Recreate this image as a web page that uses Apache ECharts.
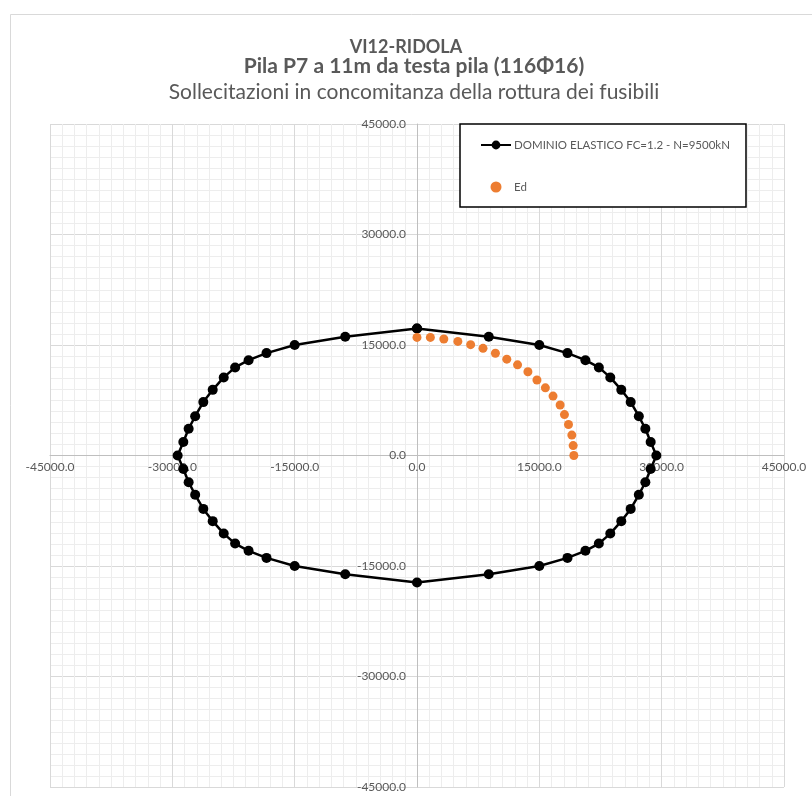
<!DOCTYPE html>
<html><head><meta charset="utf-8">
<script src="https://cdn.jsdelivr.net/npm/echarts@6/dist/echarts.min.js"></script>
<style>html,body{margin:0;padding:0;background:#fff}#c{width:812px;height:796px}</style>
</head><body><div id="c"></div>
<script>
// Elastic domain (closed loop, clockwise from top)
const domainX = [0, 8800, 15000, 18450, 20650, 22300, 23700, 25050, 26200, 27200, 28000, 28650, 29350,
  28650, 28000, 27200, 26200, 25050, 23700, 22300, 20650, 18450, 15000, 8800, 0,
  -8800, -15000, -18450, -20650, -22300, -23700, -25050, -26200, -27200, -28000, -28650, -29350,
  -28650, -28000, -27200, -26200, -25050, -23700, -22300, -20650, -18450, -15000, -8800, 0];
const domainY = [17250, 16120, 15000, 13900, 12940, 11955, 10600, 8910, 7250, 5330, 3630, 1835, 0,
  -1835, -3630, -5330, -7250, -8910, -10600, -11955, -12940, -13900, -15000, -16120, -17250,
  -16120, -15000, -13900, -12940, -11955, -10600, -8910, -7250, -5330, -3630, -1835, 0,
  1835, 3630, 5330, 7250, 8910, 10600, 11955, 12940, 13900, 15000, 16120, 17250];
// Ed points
const edX = [0, 1640, 3290, 5010, 6575, 8095, 9615, 11010, 12330, 13600, 14710, 15740, 16680, 17550, 18080, 18575, 18985, 19150, 19230];
const edY = [16030, 16030, 15810, 15490, 15045, 14550, 13880, 13075, 12310, 11370, 10250, 9180, 8060, 6850, 5550, 4210, 2775, 1345, 0];

const titles = ['VI12-RIDOLA', 'Pila P7 a 11m da testa pila (116\u03A616)', 'Sollecitazioni in concomitanza della rottura dei fusibili'];
const seriesNames = ['DOMINIO ELASTICO FC=1.2 - N=9500kN', 'Ed'];
const axisMin = -45000, axisMax = 45000, axisStep = 15000;

const FONT = 'Lato';
const TXT = '#595959';
const W = 812, H = 796;
const G = {left: 50, right: 28, top: 124, bottom: 9};
const gridW = W - G.left - G.right, gridH = H - G.top - G.bottom;

const chart = echarts.init(document.getElementById('c'), null, {renderer: 'canvas'});
const domainData = domainX.map((x, i) => [x, domainY[i]]);
const edData = edX.map((x, i) => [x, edY[i]]);

function axis(isX) {
  return {
    type: 'value', min: axisMin, max: axisMax, interval: axisStep,
    position: isX ? 'bottom' : 'left',
    // place the axis (line + labels) at the origin, as in the Excel chart
    offset: isX ? -gridH / 2 : -gridW / 2,
    axisLine: {show: true, onZero: false, lineStyle: {color: '#bfbfbf', width: 1}},
    axisTick: {show: false},
    minorTick: {show: false, splitNumber: 10},
    minorSplitLine: {show: true, lineStyle: {color: '#ededed', width: 1}},
    splitLine: {show: true, lineStyle: {color: '#d9d9d9', width: 1}},
    axisLabel: {
      color: TXT, fontFamily: FONT, fontSize: 12, margin: isX ? 6 : 11,
      formatter: v => v.toFixed(1)
    }
  };
}

chart.setOption({
  animation: false,
  backgroundColor: '#fff',
  title: [
    {text: titles[0], left: 'center', top: 33, textStyle: {fontFamily: FONT, fontSize: 18, fontWeight: 'bold', color: TXT}},
    {text: titles[1], left: 409, textAlign: 'center', top: 51, textStyle: {fontFamily: FONT, fontSize: 21, fontWeight: 'bold', color: TXT}},
    {text: titles[2], left: 409, textAlign: 'center', top: 77, textStyle: {fontFamily: FONT, fontSize: 21, fontWeight: 'normal', color: TXT}}
  ],
  graphic: [{
    type: 'rect', left: 8, top: 12, shape: {width: 830, height: 820},
    style: {fill: 'none', stroke: '#d9d9d9', lineWidth: 1}, silent: true
  }],
  legend: {
    orient: 'vertical', left: 460, top: 124,
    padding: [15, 16, 14, 20],
    itemWidth: 30, itemHeight: 11, itemGap: 30,
    backgroundColor: '#fff', borderColor: '#000', borderWidth: 1.5,
    textStyle: {fontFamily: FONT, fontSize: 11.5, color: TXT, padding: [0, 0, 0, -2]},
    data: seriesNames
  },
  grid: {left: G.left, right: G.right, top: G.top, bottom: G.bottom, containLabel: false},
  xAxis: axis(true),
  yAxis: axis(false),
  series: [
    {
      name: seriesNames[0], type: 'line', data: domainData,
      symbol: 'circle', symbolSize: 10, showSymbol: true,
      itemStyle: {color: '#000'}, lineStyle: {color: '#000', width: 2.5},
      z: 3
    },
    {
      name: seriesNames[1], type: 'scatter', data: edData,
      symbol: 'circle', symbolSize: 9,
      itemStyle: {color: '#ED7D31', opacity: 1}, z: 4
    }
  ]
});
</script></body></html>
